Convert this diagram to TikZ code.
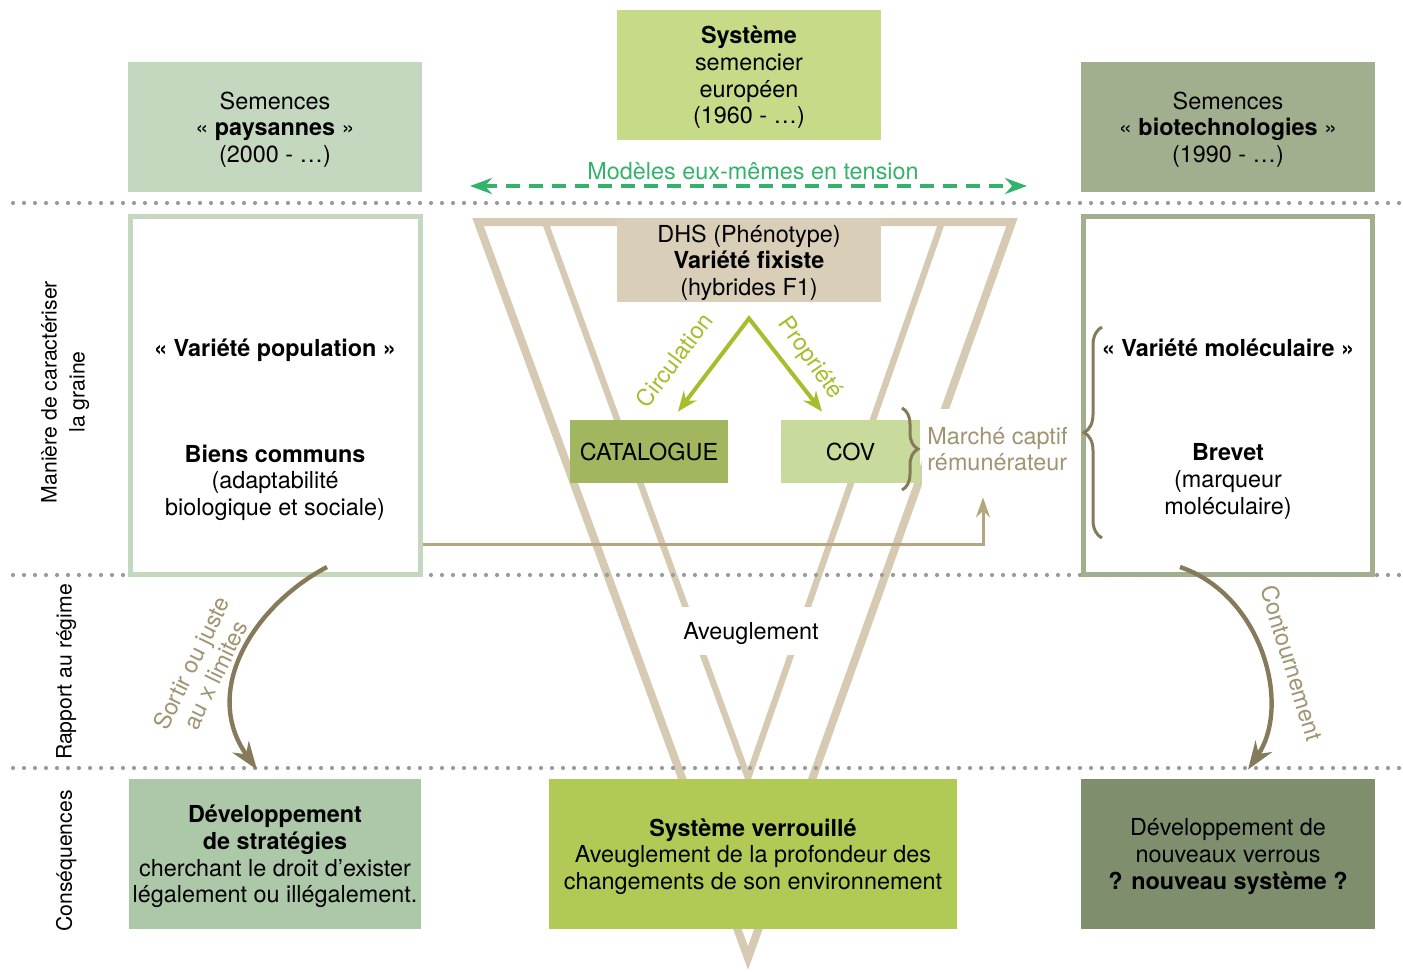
\documentclass[tikz,border=0pt]{standalone}
\usepackage{fontspec}
\setmainfont{TeX Gyre Heros}
\usetikzlibrary{arrows.meta,calc,decorations.pathreplacing}
\definecolor{paysan}{HTML}{C3D8BF}
\definecolor{systeme}{HTML}{C7DA88}
\definecolor{biotech}{HTML}{A1AF8F}
\definecolor{dhsfill}{HTML}{D9CFB9}
\definecolor{vtan}{HTML}{D6CBB2}
\definecolor{catfill}{HTML}{A1B65F}
\definecolor{covfill}{HTML}{C9DB9C}
\definecolor{botleft}{HTML}{ACC8A8}
\definecolor{botmid}{HTML}{B0CA55}
\definecolor{botright}{HTML}{7F8F6D}
\definecolor{tensiongreen}{HTML}{33B26B}
\definecolor{arrowgreen}{HTML}{A8BC2C}
\definecolor{bracebrown}{HTML}{857A5A}
\definecolor{marchetxt}{HTML}{A09472}
\definecolor{tanline}{HTML}{B5A67F}
\definecolor{dotgray}{HTML}{9C9C9C}

\begin{document}
\begin{tikzpicture}[x=0.5pt,y=-0.5pt,
  txt/.style={font=\fontsize{11.7}{13.3}\selectfont, align=center, text depth=0pt},
  sidetxt/.style={txt, font=\fontsize{10.6}{14}\selectfont, rotate=90},
  box/.style={txt, inner sep=0pt},
  vline/.style={draw=vtan, line join=miter},
  dotrow/.style={draw=dotgray, line width=2.1pt, line cap=round, dash pattern=on 0pt off 5.5pt},
  greenarrow/.style={draw=arrowgreen, line width=2pt, arrows={Stealth[length=10pt,width=8pt]-Stealth[length=10pt,width=8pt]}},
  curvearrow/.style={draw=bracebrown, line width=2.2pt, -{Stealth[length=14pt,width=10pt]}},
  bracepath/.style={draw=bracebrown, line width=1.5pt, decorate}]
\useasboundingbox (0,0) rectangle (1403,971);

\draw[vline, line width=4pt] (478,222) -- (1012,222) -- (748,958) -- cycle;
\draw[vline, line width=3.2pt] (545,222) -- (748,778) -- (942,222);

\foreach \y in {203,575,768}{
	\draw[dotrow] (13,\y) -- (1403,\y);
	}

\node[box, fill=paysan, minimum width=147pt, minimum height=65pt] (paysan) at (275,127) {Semences\\«~\textbf{paysannes}~»\\(2000 - …)};
\node[box, fill=systeme, minimum width=132pt, minimum height=65pt] (systeme) at (749,75) {\textbf{Système}\\semencier\\européen\\(1960 - …)};
\node[box, fill=biotech, minimum width=147pt, minimum height=65pt] (biotech) at (1228,127) {Semences\\«~\textbf{biotechnologies}~»\\(1990 - …)};

\node[draw=paysan, line width=2.5pt, minimum width=145pt, minimum height=179pt] (popframe) at (275.5,395.5) {};
\node[draw=biotech, line width=2.5pt, minimum width=144.5pt, minimum height=179pt] (molframe) at (1228,395.5) {};
\node[txt] (population) at (275,348) {\textbf{« Variété population »}};
\node[txt] (communs) at (275,480) {\textbf{Biens communs}\\(adaptabilité\\biologique et sociale)};
\node[txt] (moleculaire) at (1228,348) {\textbf{« Variété moléculaire »}};
\node[txt] (brevet) at (1228,479) {\textbf{Brevet}\\(marqueur\\moléculaire)};

\node[box, fill=dhsfill, minimum width=132pt, minimum height=42pt] (dhs) at (749,260) {DHS (Phénotype)\\\textbf{Variété fixiste}\\(hybrides F1)};
\node[box, fill=catfill, minimum width=79pt, minimum height=31.5pt] (catalogue) at (649,451.5) {CATALOGUE};
\node[box, fill=covfill, minimum width=69.5pt, minimum height=31.5pt] (cov) at (850.5,451.5) {COV};
\node[txt, fill=white, minimum height=24pt, inner xsep=4pt] (aveugle) at (751,631) {Aveuglement};
\node[txt, text=marchetxt, fill=white, align=left, anchor=west, minimum height=40pt, inner xsep=2.5pt] (marche) at (922,449) {Marché captif\\rémunérateur};

\node[box, fill=botleft, minimum width=146pt, minimum height=75pt] (strategies) at (275,854) {\textbf{Développement}\\\textbf{de stratégies}\\cherchant le droit d’exister\\légalement ou illégalement.};
\node[box, fill=botmid, minimum width=204pt, minimum height=75pt] (verrou) at (753,854) {\textbf{Système verrouillé}\\Aveuglement de la profondeur des\\changements de son environnement};
\node[box, fill=botright, minimum width=147pt, minimum height=75pt] (verrous) at (1228,854) {Développement de\\nouveaux verrous\\\textbf{? nouveau système ?}};

\node[sidetxt] (caracteriser) at (63,392) {Manière de caractériser\\la graine};
\node[sidetxt] (regime) at (64,672) {Rapport au régime};
\node[sidetxt] (consequences) at (64,861) {Conséquences};

\coordinate (tensionW) at (470,186);
\coordinate (tensionE) at (1027,186);
\draw[draw=tensiongreen, line width=1.8pt, dash pattern=on 7pt off 4.5pt, arrows={Stealth[length=11pt,width=8pt]-Stealth[length=11pt,width=8pt]}] (tensionW) -- (tensionE);
\node[txt, text=tensiongreen] (tension) at (753,171) {Modèles eux-mêmes en tension};

\coordinate (apex) at ($(dhs.south)+(0,16)$);
\draw[greenarrow] ($(catalogue.north)+(29,-8)$) -- (apex) -- ($(cov.north)+(-28.5,-8)$);
\node[txt, text=arrowgreen, rotate=53] (circulation) at (674,360) {Circulation};
\node[txt, text=arrowgreen, rotate=-55] (propriete) at (812,357) {Propriété};

\draw[bracepath, decoration={brace, amplitude=8pt}] (902,408) -- (902,490);
\draw[bracepath, decoration={brace, amplitude=9pt}] (1102,538) -- (1102,327);

\draw[draw=tanline, line width=1.5pt, -{Stealth[length=10pt,width=7pt]}] ($(popframe.east)+(0,148.5)$) -| ($(marche.south west)+(61,8)$);

\draw[curvearrow] ($(popframe.south)+(51.5,-10)$) .. controls (255,605) and (200,690) .. ($(strategies.north)+(-18,-9)$);
\draw[curvearrow] ($(molframe.south)+(-48,-10)$) .. controls (1262,595) and (1292,705) .. ($(verrous.north)+(20,-9)$);
\node[txt, text=marchetxt, rotate=64] (sortir) at (203,669) {Sortir ou juste\\au x limites};
\node[txt, text=marchetxt, rotate=-73] (contour) at (1292,663) {Contournement};
\end{tikzpicture}
\end{document}
